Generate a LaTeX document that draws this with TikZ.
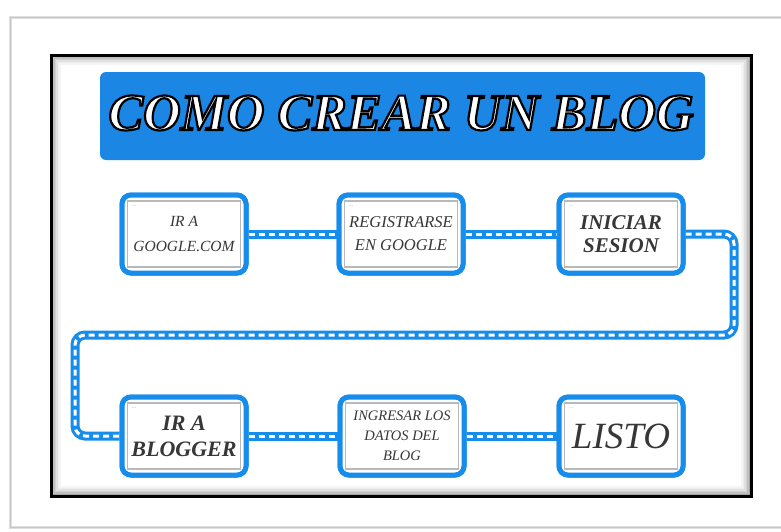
\documentclass[tikz,border=0pt]{standalone}
\usepackage{fontspec}
\setmainfont{Liberation Serif}
\definecolor{tblue}{RGB}{28,134,229}
\definecolor{bblue}{RGB}{22,140,235}
\definecolor{txtgray}{RGB}{55,55,55}
\newcommand{\outlinetext}[1]{\special{pdf:code 2 Tr 2.2 w 0 0 0 RG 1 1 1 rg}#1\special{pdf:code 0 Tr 1 w}}
\tikzset{
  stepbox/.style={draw=bblue, line width=5, rounded corners=9, fill=white,
    minimum width=124, minimum height=78, inner sep=0},
  innerbox/.style={draw=gray!55, line width=1.5, fill=white,
    minimum width=113, minimum height=66, inner sep=0, align=center,
    text=txtgray},
  linkblue/.style={draw=bblue, line width=9, rounded corners=10},
  linkwhite/.style={draw=white, line width=3, dash pattern=on 6 off 4, rounded corners=10},
  dots/.style={text=gray!70, font=\fontsize{6}{6}\selectfont, inner sep=0}
}
\begin{document}
\begin{tikzpicture}[x=1pt,y=-1pt]
\useasboundingbox (0,0) rectangle (781,531);
\fill[white] (0,0) rectangle (781,531);
% outer sheet
\draw[gray!25, line width=3] (10,17) rectangle (820,527);
\draw[gray!45, line width=1] (10,17) rectangle (820,527);
% black frame with inner shadow
\foreach \i/\o in {1/0.35,2/0.25,3/0.18,4/0.12,5/0.07,6/0.04}
  \draw[black, opacity=\o, line width=1.6] (51+1.5*\i,55+1.5*\i) rectangle (751-1.5*\i,496-1.5*\i);
\draw[black, line width=3] (51,55) rectangle (751,496);
% title
\node[fill=tblue, rounded corners=6, minimum width=605, minimum height=88, inner sep=0] (title) at (402.5,116) {};
\node[inner sep=0, font=\fontsize{52}{52}\selectfont\bfseries\itshape] (titletext) at (401,113)
  {\outlinetext{COMO CREAR UN BLOG}};
% anchors for the winding connector
\coordinate (c1) at (734,234);
\coordinate (c2) at (734,335);
\coordinate (c3) at (75,335);
\coordinate (c4) at (75,436);
% boxes
\path
  (184,234) node[stepbox] (b1) {}
  (401,234) node[stepbox] (b2) {}
  (621,234) node[stepbox] (b3) {}
  (184,436) node[stepbox] (b4) {}
  (402,436) node[stepbox] (b5) {}
  (621,436) node[stepbox] (b6) {};
% connectors
\foreach \s in {linkblue,linkwhite}{
  \draw[\s] (b1.east) -- (b2.west);
  \draw[\s] (b2.east) -- (b3.west);
  \draw[\s] (b3.east) -- (c1) -- (c2) -- (c3) -- (c4) -- (b4.west);
  \draw[\s] (b4.east) -- (b5.west);
  \draw[\s] (b5.east) -- (b6.west);
}
% redraw boxes on top
\foreach \x/\y in {184/234,401/234,621/234,184/436,402/436,621/436}
  \node[stepbox] at (\x,\y) {};
% inner boxes with text
\node[innerbox, font=\fontsize{15.5}{25}\selectfont\itshape] (t1) at (b1) {IR A\\GOOGLE.COM};
\node[innerbox, font=\fontsize{16.5}{23}\selectfont\itshape] (t2) at (b2) {REGISTRARSE\\EN GOOGLE};
\node[innerbox, font=\fontsize{21}{23}\selectfont\bfseries\itshape] (t3) at (b3) {INICIAR\\SESION};
\node[innerbox, font=\fontsize{22}{26}\selectfont\bfseries\itshape] (t4) at (b4) {IR A\\BLOGGER};
\node[innerbox, font=\fontsize{14.5}{20}\selectfont\itshape] (t5) at (b5) {INGRESAR LOS\\DATOS DEL\\BLOG};
\node[innerbox, font=\fontsize{37}{37}\selectfont\itshape] (t6) at (b6) {LISTO};
% small dot marks
\foreach \t in {t1,t2,t3,t4,t6}
  \node[dots, anchor=north west] at ([xshift=5,yshift=-5]\t.north west) {...};
\end{tikzpicture}
\end{document}
